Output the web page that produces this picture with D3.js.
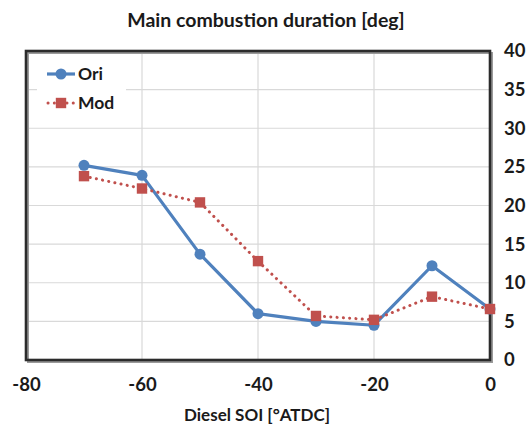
<!DOCTYPE html>
<html>
<head>
<meta charset="utf-8">
<script src="https://cdn.jsdelivr.net/npm/d3@7"></script>
<style>
  html, body { margin: 0; padding: 0; background: #fff; }
  svg text { font-family: Lato, "Open Sans", sans-serif; font-weight: 700; fill: #1a1a1a; }
</style>
</head>
<body>
<svg id="chart" width="532" height="430"></svg>
<script>
// Diesel start of injection [°ATDC]
const soi = [-70, -60, -50, -40, -30, -20, -10, 0];
// Main combustion duration [deg] for each configuration
const ori = [25.2, 23.9, 13.7, 6.0, 5.0, 4.5, 12.2, 6.6];
const mod = [23.8, 22.2, 20.4, 12.8, 5.7, 5.2, 8.2, 6.6];
const xTicks = [-80, -60, -40, -20, 0];
const yTicks = [0, 5, 10, 15, 20, 25, 30, 35, 40];
const seriesNames = ["Ori", "Mod"];

const svg = d3.select("#chart");
const plot = { left: 26, right: 490, top: 51, bottom: 360 };

const x = d3.scaleLinear().domain([-80, 0]).range([plot.left, plot.right]);
const y = d3.scaleLinear().domain([0, 40]).range([plot.bottom, plot.top]);

const blue = "#4F81BD", red = "#C0504D";
const plainNum = d => String(d);   // hyphen-minus, as in spreadsheet labels

// gridlines
const grid = svg.append("g");
grid.selectAll(".hg").data(yTicks.filter(v => v > 0 && v < 40)).enter()
  .append("line")
  .attr("x1", plot.left).attr("x2", plot.right)
  .attr("y1", d => y(d)).attr("y2", d => y(d))
  .attr("stroke", "#d9d9d9").attr("stroke-width", 1.2);
grid.selectAll(".vg").data(xTicks.filter(v => v > -80 && v < 0)).enter()
  .append("line")
  .attr("y1", plot.top).attr("y2", plot.bottom)
  .attr("x1", d => x(d)).attr("x2", d => x(d))
  .attr("stroke", "#d9d9d9").attr("stroke-width", 1.2);

// plot-area border with a soft drop shadow
svg.append("rect")
  .attr("x", plot.left + 2).attr("y", plot.top + 2)
  .attr("width", plot.right - plot.left).attr("height", plot.bottom - plot.top)
  .attr("fill", "none").attr("stroke", "#9a9a9a").attr("stroke-width", 2);
svg.append("rect")
  .attr("x", plot.left).attr("y", plot.top)
  .attr("width", plot.right - plot.left).attr("height", plot.bottom - plot.top)
  .attr("fill", "none").attr("stroke", "#2b2b2b").attr("stroke-width", 2.6);

// axes (labels only)
const xAxis = d3.axisBottom(x).tickValues(xTicks).tickFormat(plainNum).tickSize(0).tickPadding(0);
const gx = svg.append("g").attr("transform", `translate(0,${plot.bottom + 18})`).call(xAxis);
gx.select(".domain").remove();
gx.selectAll("text").attr("font-size", 18.5).attr("dy", "0.71em")
  .style("font-family", "Lato, sans-serif").style("font-weight", 700).attr("fill", "#1a1a1a");

const yAxis = d3.axisRight(y).tickValues(yTicks).tickFormat(plainNum).tickSize(0).tickPadding(0);
const gy = svg.append("g").attr("transform", `translate(${plot.right + 14},0)`).call(yAxis);
gy.select(".domain").remove();
gy.selectAll("text").attr("font-size", 18.5).attr("x", 0)
  .style("font-family", "Lato, sans-serif").style("font-weight", 700).attr("fill", "#1a1a1a");

// series
const line = d3.line().x(d => x(d[0])).y(d => y(d[1]));
const oriPts = soi.map((s, i) => [s, ori[i]]);
const modPts = soi.map((s, i) => [s, mod[i]]);

svg.append("path").datum(oriPts).attr("d", line)
  .attr("fill", "none").attr("stroke", blue).attr("stroke-width", 3.2)
  .attr("stroke-linejoin", "round");
svg.selectAll(".oc").data(oriPts).enter().append("circle")
  .attr("cx", d => x(d[0])).attr("cy", d => y(d[1])).attr("r", 5.5)
  .attr("fill", blue);

svg.append("path").datum(modPts).attr("d", line)
  .attr("fill", "none").attr("stroke", red).attr("stroke-width", 3)
  .attr("stroke-linecap", "round").attr("stroke-dasharray", "0.1 6.2");
svg.selectAll(".ms").data(modPts).enter().append("rect")
  .attr("x", d => x(d[0]) - 5.2).attr("y", d => y(d[1]) - 5.2)
  .attr("width", 10.4).attr("height", 10.4)
  .attr("fill", red);

// legend
const lg = svg.append("g");
lg.append("rect").attr("x", 37).attr("y", 60).attr("width", 89).attr("height", 55).attr("fill", "#fff");
const ly = [74, 103];
lg.append("line").attr("x1", 47).attr("x2", 75).attr("y1", ly[0]).attr("y2", ly[0])
  .attr("stroke", blue).attr("stroke-width", 3.2);
lg.append("circle").attr("cx", 61).attr("cy", ly[0]).attr("r", 5.5).attr("fill", blue);
lg.append("line").attr("x1", 48).attr("x2", 75).attr("y1", ly[1]).attr("y2", ly[1])
  .attr("stroke", red).attr("stroke-width", 3).attr("stroke-linecap", "round")
  .attr("stroke-dasharray", "0.1 6.2");
lg.append("rect").attr("x", 61 - 5.2).attr("y", ly[1] - 5.2).attr("width", 10.4).attr("height", 10.4).attr("fill", red);
lg.selectAll(".lt").data(seriesNames).enter().append("text")
  .attr("x", 78).attr("y", (d, i) => ly[i]).attr("dy", "0.36em")
  .attr("font-size", 17.5).text(d => d);

// titles
svg.append("text").attr("x", 266).attr("y", 27).attr("text-anchor", "middle")
  .attr("font-size", 19.5).text("Main combustion duration [deg]");
svg.append("text").attr("x", 257).attr("y", 421).attr("text-anchor", "middle")
  .attr("font-size", 17).text("Diesel SOI [°ATDC]");
</script>
</body>
</html>
